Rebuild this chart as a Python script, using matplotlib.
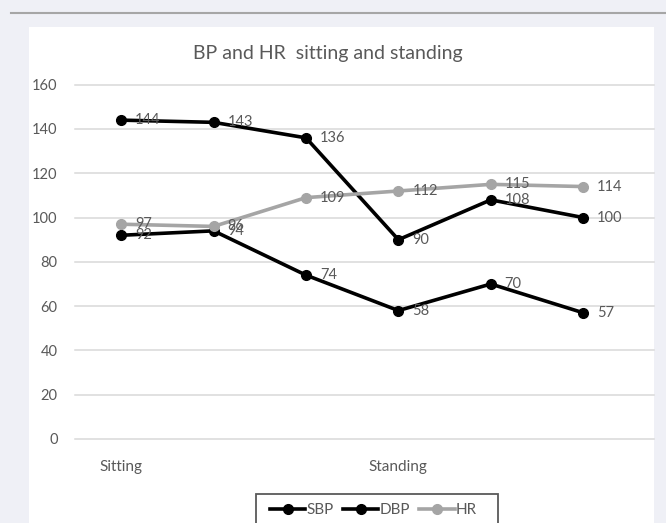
import matplotlib
matplotlib.use("Agg")
import matplotlib.pyplot as plt
from matplotlib.patches import Rectangle
from matplotlib.lines import Line2D

plt.rcParams["font.family"] = ["Lato", "DejaVu Sans"]

# readings, sitting then standing
categories = ["Sitting", "", "", "Standing", "", ""]
sbp = [144, 143, 136, 90, 108, 100]
dbp = [92, 94, 74, 58, 70, 57]
hr = [97, 96, 109, 112, 115, 114]

W, H = 666, 523
text_grey = "#595959"

fig = plt.figure(figsize=(W / 100, H / 100), dpi=100, facecolor="#eff0f6")

# white chart panel and the thin rule above it
fig.patches.append(Rectangle((29 / W, 0), (654 - 29) / W, (H - 27) / H,
                             transform=fig.transFigure, facecolor="white",
                             edgecolor="none", zorder=-5))
fig.lines.append(Line2D([11 / W, 1], [1 - 12.5 / H] * 2, transform=fig.transFigure,
                        color="#a6a6a6", lw=1.5, zorder=-4))

ax = fig.add_axes([75 / W, (H - 439) / H, 579 / W, (439 - 84.7) / H])
ax.set_facecolor("none")
step = 92.4
ax.set_xlim(0.5, 0.5 + 579 / step)
ax.set_ylim(0, 160)
for s in ax.spines.values():
    s.set_visible(False)

yticks = list(range(0, 161, 20))
for v in yticks:
    ax.axhline(v, color="#d9d9d9", lw=1.1, zorder=0, clip_on=False)
ax.set_yticks(yticks)
x = list(range(1, len(categories) + 1))
ax.set_xticks(x)
ax.set_xticklabels(categories)
ax.tick_params(axis="y", length=0, pad=12.5, labelsize=10.5, labelcolor=text_grey)
ax.tick_params(axis="x", length=0, pad=15, labelsize=11, labelcolor=text_grey)

series = [("SBP", sbp, "black"), ("DBP", dbp, "black"), ("HR", hr, "#a5a5a5")]
for i, (name, vals, col) in enumerate(series):
    ax.plot(x, vals, color=col, lw=2.6, marker="o", ms=7, label=name,
            clip_on=False, zorder=3 + i)
    for xi, v in zip(x, vals):
        ax.annotate(str(v), (xi, v), xytext=(10, 0), textcoords="offset points",
                    ha="left", va="center", fontsize=10.5, color=text_grey, zorder=6)

fig.text(328 / W, 1 - 53 / H, "BP and HR  sitting and standing", ha="center",
         va="center", fontsize=14, color=text_grey)

# legend, box runs off the bottom edge
fig.patches.append(Rectangle((255.7 / W, -0.02), (498 - 255.7) / W, (H - 494) / H + 0.02,
                             transform=fig.transFigure, facecolor="none",
                             edgecolor=text_grey, lw=1.3, zorder=5))
handles, labels = ax.get_legend_handles_labels()
fig.legend(handles, labels, loc="center left", bbox_to_anchor=(270 / W, 1 - 510 / H),
           ncol=3, frameon=False, fontsize=11, labelcolor=text_grey,
           handlelength=2.3, handletextpad=0.1, columnspacing=0.6,
           borderpad=0, borderaxespad=0, numpoints=1)

fig.savefig("out.png", dpi=100, facecolor=fig.get_facecolor())
